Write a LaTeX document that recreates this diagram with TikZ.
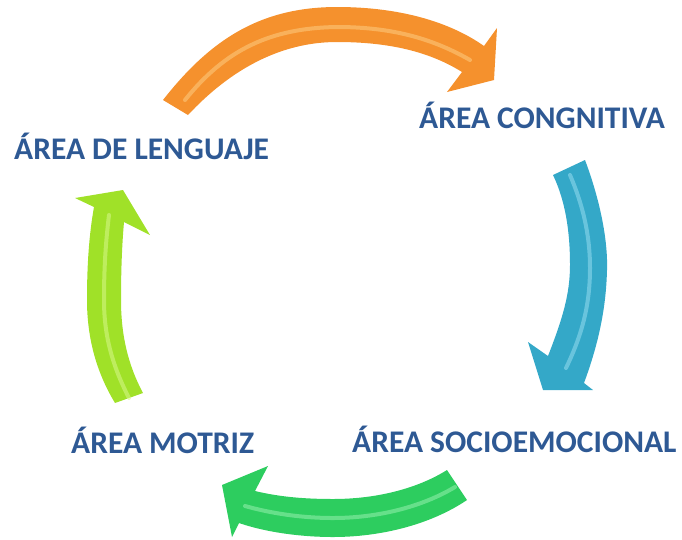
\documentclass[tikz,border=0pt]{standalone}
\usepackage{fontspec}
\setmainfont{Carlito}
\definecolor{txtblue}{RGB}{46,89,148}
\definecolor{orA}{RGB}{245,145,45}
\definecolor{orL}{RGB}{253,205,130}
\definecolor{blA}{RGB}{52,168,200}
\definecolor{blL}{RGB}{150,220,240}
\definecolor{grA}{RGB}{45,205,95}
\definecolor{grL}{RGB}{150,240,175}
\definecolor{lmA}{RGB}{160,225,40}
\definecolor{lmL}{RGB}{215,248,140}
\tikzset{
  lbl/.style={text=txtblue, font=\fontsize{31.5}{38}\selectfont\bfseries, inner sep=0pt},
  hl/.style={line width=4pt, opacity=0.55, line cap=round}
}
\begin{document}
\begin{tikzpicture}[x=1pt,y=-1pt]
\useasboundingbox (0,0) rectangle (682,539);
% orange arrow
\fill[orA] (163,100) .. controls (210,40) and (260,7) .. (337,7) .. controls (400,7) and (450,22) .. (484,46) -- (497,28) -- (494,80) -- (447,92) -- (462,72) .. controls (430,52) and (390,42) .. (337,42) .. controls (280,42) and (230,70) .. (188,115) -- cycle;
\draw[hl,orL] (185,100) .. controls (225,50) and (270,28) .. (337,27) .. controls (395,27) and (435,40) .. (470,60);
% blue arrow
\fill[blA] (585,160) .. controls (600,200) and (608,240) .. (607,270) .. controls (606,310) and (598,345) .. (584,383) -- (593,390) -- (543,390) -- (528,342) -- (548,356) .. controls (562,320) and (570,295) .. (570,265) .. controls (570,230) and (565,200) .. (553,175) -- cycle;
\draw[hl,blL] (570,175) .. controls (585,210) and (590,240) .. (590,268) .. controls (590,305) and (582,335) .. (566,368);
% green arrow
\fill[grA] (467,500) .. controls (430,525) and (380,537) .. (333,537) .. controls (300,537) and (265,532) .. (239,523) -- (232,537) -- (222,485) -- (268,466) -- (255,491) .. controls (280,497) and (305,499) .. (333,499) .. controls (380,499) and (420,487) .. (447,470) -- cycle;
\draw[hl,grL] (455,487) .. controls (420,508) and (375,518) .. (333,518) .. controls (300,518) and (270,513) .. (245,506);
% lime arrow
\fill[lmA] (115,403) .. controls (95,370) and (87,335) .. (87,300) .. controls (87,265) and (89,235) .. (94,207) -- (75,198) -- (123,190) -- (150,235) -- (124,222) .. controls (122,245) and (121,270) .. (121,300) .. controls (121,335) and (128,365) .. (143,393) -- cycle;
\draw[hl,lmL] (129,398) .. controls (112,365) and (104,335) .. (104,300) .. controls (104,265) and (106,240) .. (109,215);
% labels
\node[lbl, anchor=base west] (lenguaje) at (14,159) {ÁREA DE LENGUAJE};
\node[lbl, anchor=base west] (cognitiva) at (419,128) {ÁREA CONGNITIVA};
\node[lbl, anchor=base west] (socio) at (352,452) {ÁREA SOCIOEMOCIONAL};
\node[lbl, anchor=base west] (motriz) at (71,453) {ÁREA MOTRIZ};
\end{tikzpicture}
\end{document}
